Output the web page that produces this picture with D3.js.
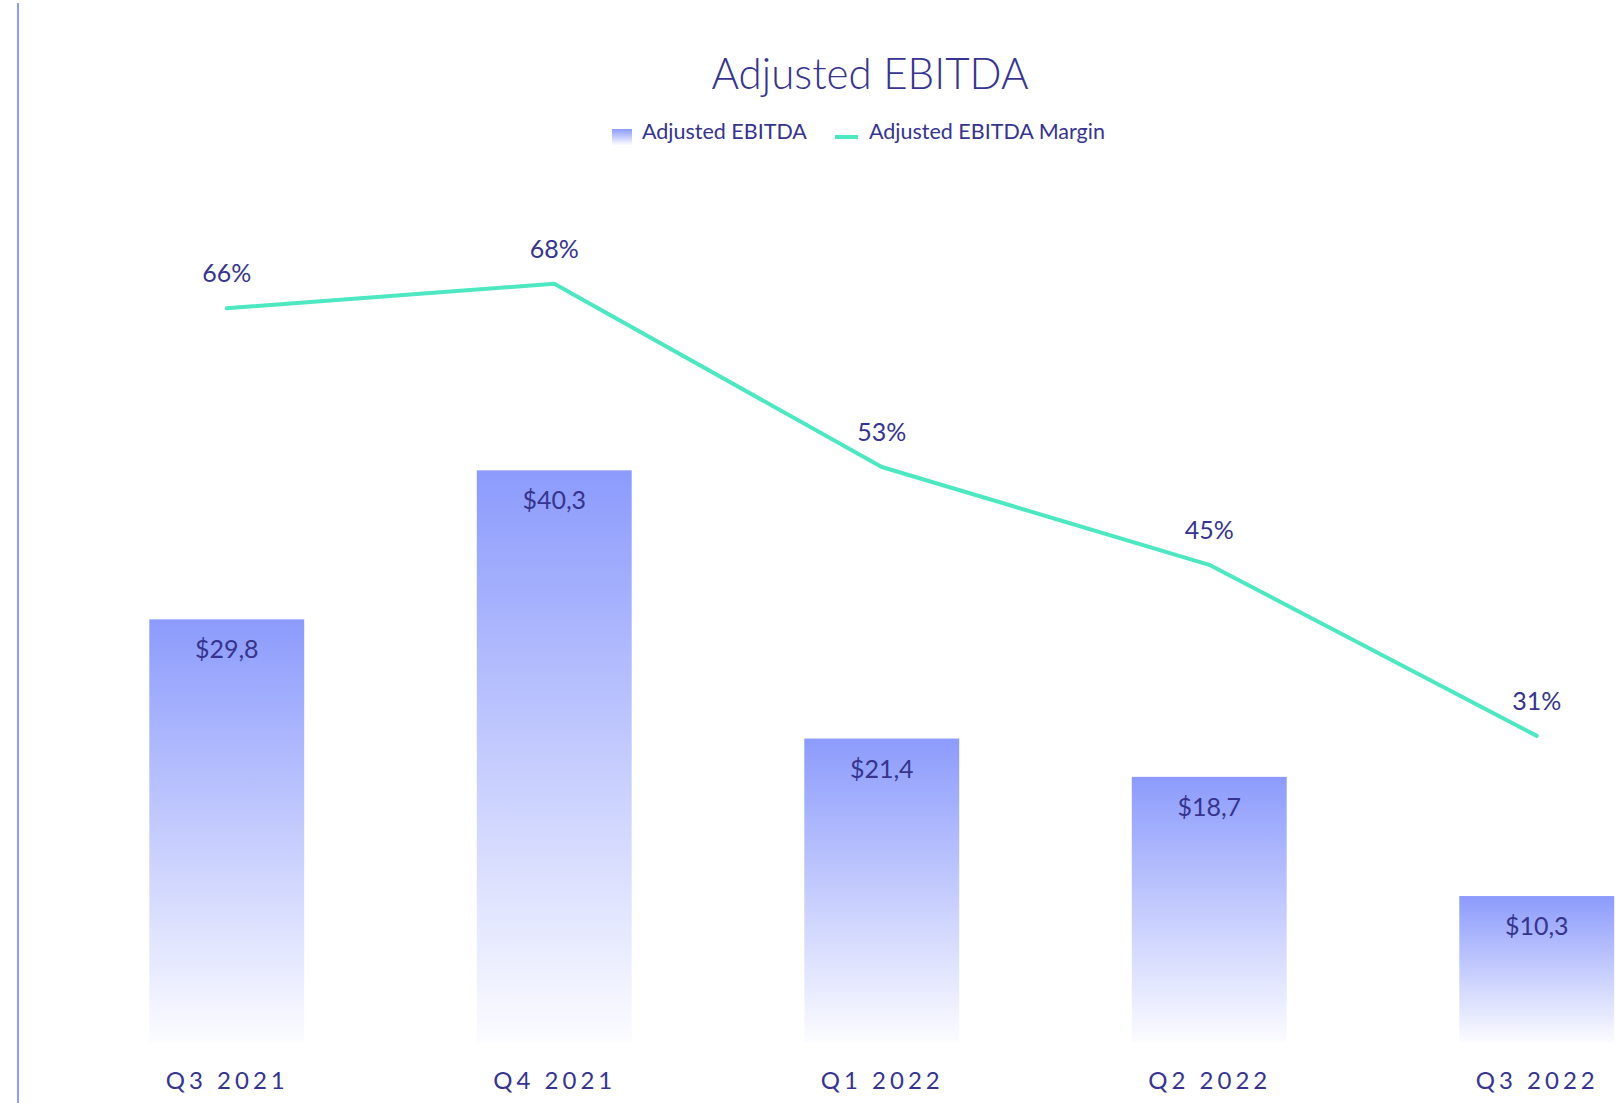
<!DOCTYPE html>
<html>
<head>
<meta charset="utf-8">
<script src="https://cdn.jsdelivr.net/npm/d3@7"></script>
<style>
  html, body { margin: 0; padding: 0; background: #fff; }
  svg text { font-family: Lato, "Open Sans", sans-serif; fill: #36348e; }
</style>
</head>
<body>
<div class="chart"></div>
<script>
// ---------------- DATA
var quarters = ["Q3 2021", "Q4 2021", "Q1 2022", "Q2 2022", "Q3 2022"];
var ebitda = [29.8, 40.3, 21.4, 18.7, 10.3];
var ebitdaLabels = ["$29,8", "$40,3", "$21,4", "$18,7", "$10,3"];
var margin = [66, 68, 53, 45, 31];
var marginLabels = ["66%", "68%", "53%", "45%", "31%"];

var width = 1616, height = 1103;
var barColor = "#8c9bfc";
var lineColor = "#4de8c2";

var svg = d3.select(".chart").append("svg")
  .attr("width", width)
  .attr("height", height);

// gradient for bars (top -> transparent bottom)
var defs = svg.append("defs");
var grad = defs.append("linearGradient")
  .attr("id", "barGrad")
  .attr("x1", 0).attr("y1", 0).attr("x2", 0).attr("y2", 1);
grad.append("stop").attr("offset", "0%").attr("stop-color", barColor).attr("stop-opacity", 1);
grad.append("stop").attr("offset", "100%").attr("stop-color", barColor).attr("stop-opacity", 0.03);

// left rule
svg.append("line")
  .attr("x1", 18).attr("x2", 18)
  .attr("y1", 3).attr("y2", height)
  .attr("stroke", barColor)
  .attr("stroke-width", 2);

// ---------------- SCALES
var x = d3.scalePoint()
  .domain(quarters)
  .range([63, 1700.5])
  .padding(0.5);

var barWidth = x.step() * 0.473;

var yBar = d3.scaleLinear()
  .domain([0, 50])
  .range([1042.2, 332.7]);

var yLine = d3.scaleLinear()
  .domain([0, 70])
  .range([1114.7, 259.3]);

// ---------------- TITLE + LEGEND
svg.append("text")
  .attr("x", 870).attr("y", 89)
  .attr("text-anchor", "middle")
  .attr("textLength", 317)
  .attr("lengthAdjust", "spacingAndGlyphs")
  .style("font-size", "44px")
  .style("font-weight", 300)
  .text("Adjusted EBITDA");

var legend = svg.append("g");
legend.append("rect")
  .attr("x", 612).attr("y", 129)
  .attr("width", 20).attr("height", 16)
  .attr("fill", "url(#barGrad)");
legend.append("text")
  .attr("x", 642).attr("y", 139)
  .style("font-size", "21.5px")
  .text("Adjusted EBITDA");
legend.append("line")
  .attr("x1", 835).attr("x2", 858)
  .attr("y1", 137).attr("y2", 137)
  .attr("stroke", lineColor)
  .attr("stroke-width", 4);
legend.append("text")
  .attr("x", 869).attr("y", 139)
  .style("font-size", "21.5px")
  .text("Adjusted EBITDA Margin");

// ---------------- BARS
var chartGroup = svg.append("g");

chartGroup.selectAll("rect.bar")
  .data(ebitda)
  .enter().append("rect")
    .attr("class", "bar")
    .attr("x", function(d, i){ return x(quarters[i]) - barWidth / 2; })
    .attr("y", function(d){ return yBar(d); })
    .attr("width", barWidth)
    .attr("height", function(d){ return yBar(0) - yBar(d); })
    .attr("fill", "url(#barGrad)");

chartGroup.selectAll("text.barLabel")
  .data(ebitda)
  .enter().append("text")
    .attr("class", "barLabel")
    .attr("x", function(d, i){ return x(quarters[i]); })
    .attr("y", function(d){ return yBar(d) + 39; })
    .attr("text-anchor", "middle")
    .style("font-size", "25px")
    .text(function(d, i){ return ebitdaLabels[i]; });

// ---------------- LINE
var line = d3.line()
  .x(function(d, i){ return x(quarters[i]); })
  .y(function(d){ return yLine(d); });

chartGroup.append("path")
  .attr("fill", "none")
  .attr("stroke", lineColor)
  .attr("stroke-width", 4)
  .attr("stroke-linejoin", "round")
  .attr("stroke-linecap", "round")
  .attr("d", line(margin));

chartGroup.selectAll("text.lineLabel")
  .data(margin)
  .enter().append("text")
    .attr("class", "lineLabel")
    .attr("x", function(d, i){ return x(quarters[i]); })
    .attr("y", function(d){ return yLine(d) - 26; })
    .attr("text-anchor", "middle")
    .style("font-size", "25px")
    .text(function(d, i){ return marginLabels[i]; });

// ---------------- X AXIS LABELS
var xAxis = d3.axisBottom(x).tickSize(0).tickPadding(0);
var axisG = svg.append("g")
  .attr("class", "axis x")
  .attr("transform", "translate(0, 1072)")
  .call(xAxis);
axisG.select(".domain").remove();
axisG.selectAll("text")
  .attr("dy", "0.71em")
  .style("font-family", "Lato, 'Open Sans', sans-serif")
  .style("font-size", "24px")
  .style("letter-spacing", "4px")
  .style("fill", "#36348e");
</script>
</body>
</html>
